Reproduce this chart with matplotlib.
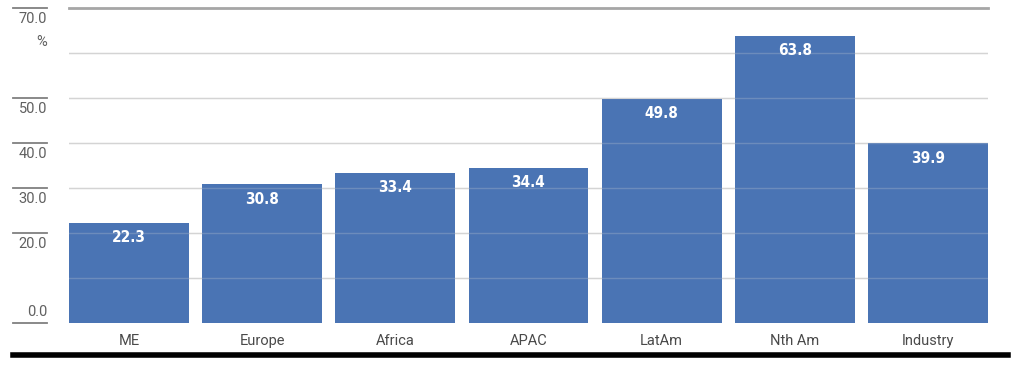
import matplotlib.pyplot as plt
from matplotlib.lines import Line2D

regions = ['ME', 'Europe', 'Africa', 'APAC', 'LatAm', 'Nth Am', 'Industry']
values = [22.3, 30.8, 33.4, 34.4, 49.8, 63.8, 39.9]
left_ticks = [70, 50, 40, 30, 20, 0]
left_labels = ['70.0', '50.0', '40.0', '30.0', '20.0', '0.0']

W, H = 1032, 381
fig = plt.figure(figsize=(W / 100, H / 100), dpi=100)
ax = fig.add_axes([69 / W, 1 - 323 / H, (988 - 69) / W, (323 - 8) / H])

bar_color = '#4a74b4'
x = range(len(regions))
ax.bar(x, values, width=0.9, color=bar_color, zorder=2)
ax.set_xlim(-0.45, len(regions) - 0.55)
ax.set_ylim(0, 70)

# gridlines, faint over the bars
for g in range(10, 70, 10):
    ax.axhline(g, color='#d4d4d4', lw=1, zorder=1)
    ax.axhline(g, color='#d4d4d4', lw=1, zorder=3, alpha=0.25)
ax.axhline(70, color='#a6a6a6', lw=2, zorder=3, clip_on=False)

for i, v in enumerate(values):
    ax.text(i, v - 1.6, f'{v:.1f}', ha='center', va='top', color='white',
            fontsize=11, fontweight='bold', family='DejaVu Sans',
            fontstretch='condensed', zorder=4)

ax.set_xticks(list(x))
ax.set_xticklabels(regions, fontsize=10.5, color='#4a4a4a', family=['Roboto', 'DejaVu Sans'])
ax.tick_params(axis='x', length=0, pad=8)
ax.set_yticks([])
for s in ax.spines.values():
    s.set_visible(False)

# left-hand short rules with labels
def fy(val):
    return 1 - (323 - val * 4.5) / H

lab_kw = dict(ha='right', fontsize=10.5, color='#606060', family=['Roboto', 'DejaVu Sans'])
for t, lab in zip(left_ticks, left_labels):
    y = fy(t)
    fig.add_artist(Line2D([13 / W, 47 / W], [y, y], color='#808080', lw=1.3))
    if t == 0:
        fig.text(47 / W, y + 4 / H, lab, va='bottom', **lab_kw)
    else:
        fig.text(47 / W, y - 4 / H, lab, va='top', **lab_kw)
fig.text(47 / W, fy(70) - 27 / H, '%', va='top', **lab_kw)

# thick bottom rule
fig.add_artist(Line2D([13 / W, 1008 / W], [1 - 355 / H, 1 - 355 / H], color='black', lw=4))

fig.savefig('out.png', dpi=100, facecolor='white')
